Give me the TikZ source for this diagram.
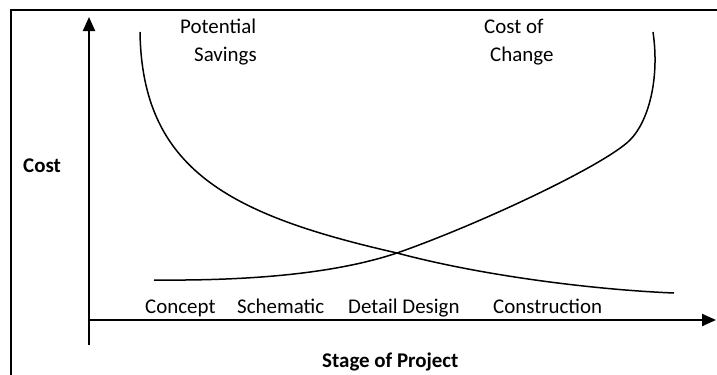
\documentclass[tikz,border=0pt]{standalone}
\usepackage{fontspec}
\setmainfont{Carlito}
\usetikzlibrary{arrows.meta}
\begin{document}
\begin{tikzpicture}[x=1bp,y=-1bp,
  lbl/.style={inner sep=0pt,anchor=base west,font=\fontsize{21}{25}\selectfont},
  blbl/.style={lbl,font=\fontsize{21}{25}\selectfont\bfseries},
  axis/.style={line width=2.2bp,-{Triangle[length=14bp,width=12bp]}},
  curve/.style={line width=1.5bp}]
\useasboundingbox (0,0) rectangle (717,374);
\fill[white] (0,0) rectangle (717,374);
% frame (cut at right and bottom)
\draw[line width=1.8bp] (11,380) -- (11,10) -- (725,10);
% axes
\coordinate (o) at (89,320);
\coordinate (ybot) at (89,345);
\coordinate (ytop) at (89,17);
\coordinate (xend) at (716,320);
\draw[axis] (ybot) -- (ytop);
\draw[axis] (o) -- (xend);
% curves
\coordinate (ps0) at (140,32);
\coordinate (cross) at (397,253);
\coordinate (ps1) at (674,293);
\coordinate (cc0) at (154,280);
\coordinate (ccm) at (630,140);
\coordinate (cc1) at (653,32);
\draw[curve] (ps0) .. controls (142,170) and (230,215) .. (cross)
  .. controls (487,277) and (600,290) .. (ps1);
\draw[curve] (cc0) .. controls (260,281) and (340,272) .. (cross)
  .. controls (480,224) and (605,165) .. (ccm)
  .. controls (648,122) and (660,80) .. (cc1);
% labels
\node[lbl] (p1) at (180,33) {Potential};
\node[lbl] (p2) at (194,61) {Savings};
\node[lbl] (c1) at (484,33) {Cost of};
\node[lbl] (c2) at (490,61) {Change};
\node[blbl] (cost) at (23,172) {Cost};
\node[lbl] (s1) at (145,313) {Concept};
\node[lbl] (s2) at (237,313) {Schematic};
\node[lbl] (s3) at (348,313) {Detail Design};
\node[lbl] (s4) at (493,313) {Construction};
\node[blbl] (stage) at (322,367) {Stage of Project};
\end{tikzpicture}
\end{document}
